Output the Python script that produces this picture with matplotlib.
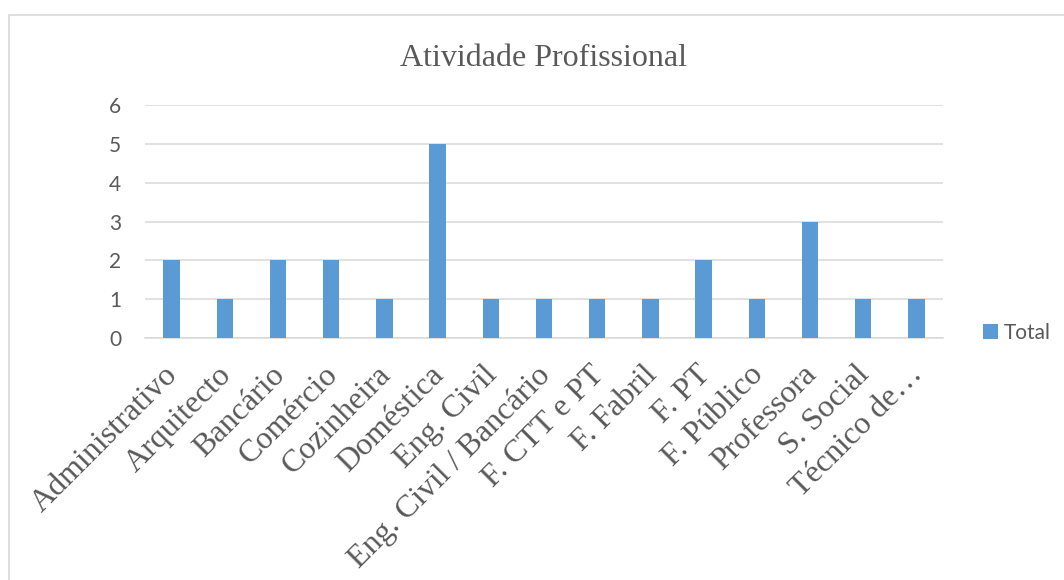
import matplotlib
matplotlib.use("Agg")
import matplotlib.pyplot as plt
import matplotlib.transforms as mtransforms
from matplotlib.patches import Rectangle

categorias = ["Administrativo", "Arquitecto", "Bancário", "Comércio", "Cozinheira",
              "Doméstica", "Eng. Civil", "Eng. Civil / Bancário", "F. CTT e PT",
              "F. Fabril", "F. PT", "F. Público", "Professora", "S. Social",
              "Técnico de…"]
totais = [2, 1, 2, 2, 1, 5, 1, 1, 1, 1, 2, 1, 3, 1, 1]
yticks = [0, 1, 2, 3, 4, 5, 6]

W, H = 1064, 580
fig = plt.figure(figsize=(W / 100, H / 100), dpi=100)
ax = fig.add_axes([145 / W, 1 - 338 / H, (943 - 145) / W, (338 - 105) / H])

cinza = "#595959"
grelha = "#D9D9D9"
azul = "#5B9BD5"

x = list(range(len(categorias)))
ax.bar(x, totais, width=0.31, color=azul, zorder=3, label="Total")
ax.set_xlim(-0.5, len(categorias) - 0.5)
ax.set_ylim(0, 6)
ax.set_yticks(yticks)
ax.set_yticklabels([str(v) for v in yticks], fontfamily="Lato", fontsize=15, color=cinza)
ax.yaxis.grid(True, color=grelha, linewidth=1.1, zorder=0)
ax.tick_params(axis="y", length=0, pad=17)
ax.tick_params(axis="x", length=0, pad=16)
for s in ["top", "right", "left"]:
    ax.spines[s].set_visible(False)
ax.spines["bottom"].set_color(grelha)
ax.spines["bottom"].set_linewidth(1.1)

ax.set_xticks(x)
ax.set_xticklabels(categorias, rotation=45, ha="right", va="top",
                   rotation_mode="anchor", fontfamily="Liberation Serif",
                   fontsize=23, color=cinza)
# rotulos um pouco para a esquerda, como no original
desvio = mtransforms.ScaledTranslation(-8 / 100, 0, fig.dpi_scale_trans)
for lbl in ax.get_xticklabels():
    lbl.set_transform(lbl.get_transform() + desvio)

fig.text(544 / W, 1 - 59 / H, "Atividade Profissional", ha="center", va="center",
         fontfamily="Liberation Serif", fontsize=23, color=cinza)

leg = ax.legend(loc="center left", bbox_to_anchor=(973 / W, 1 - 333 / H),
                bbox_transform=fig.transFigure, frameon=False,
                prop={"family": "Lato", "size": 15}, handlelength=0.7,
                handleheight=0.7, handletextpad=0.3, borderpad=0)
for t in leg.get_texts():
    t.set_color(cinza)

fig.patches.append(Rectangle((9 / W, -0.1), 1.2, 1 - 15 / H + 0.1,
                             transform=fig.transFigure, fill=False,
                             edgecolor=grelha, linewidth=1.2))

fig.savefig("out.png", dpi=100)
